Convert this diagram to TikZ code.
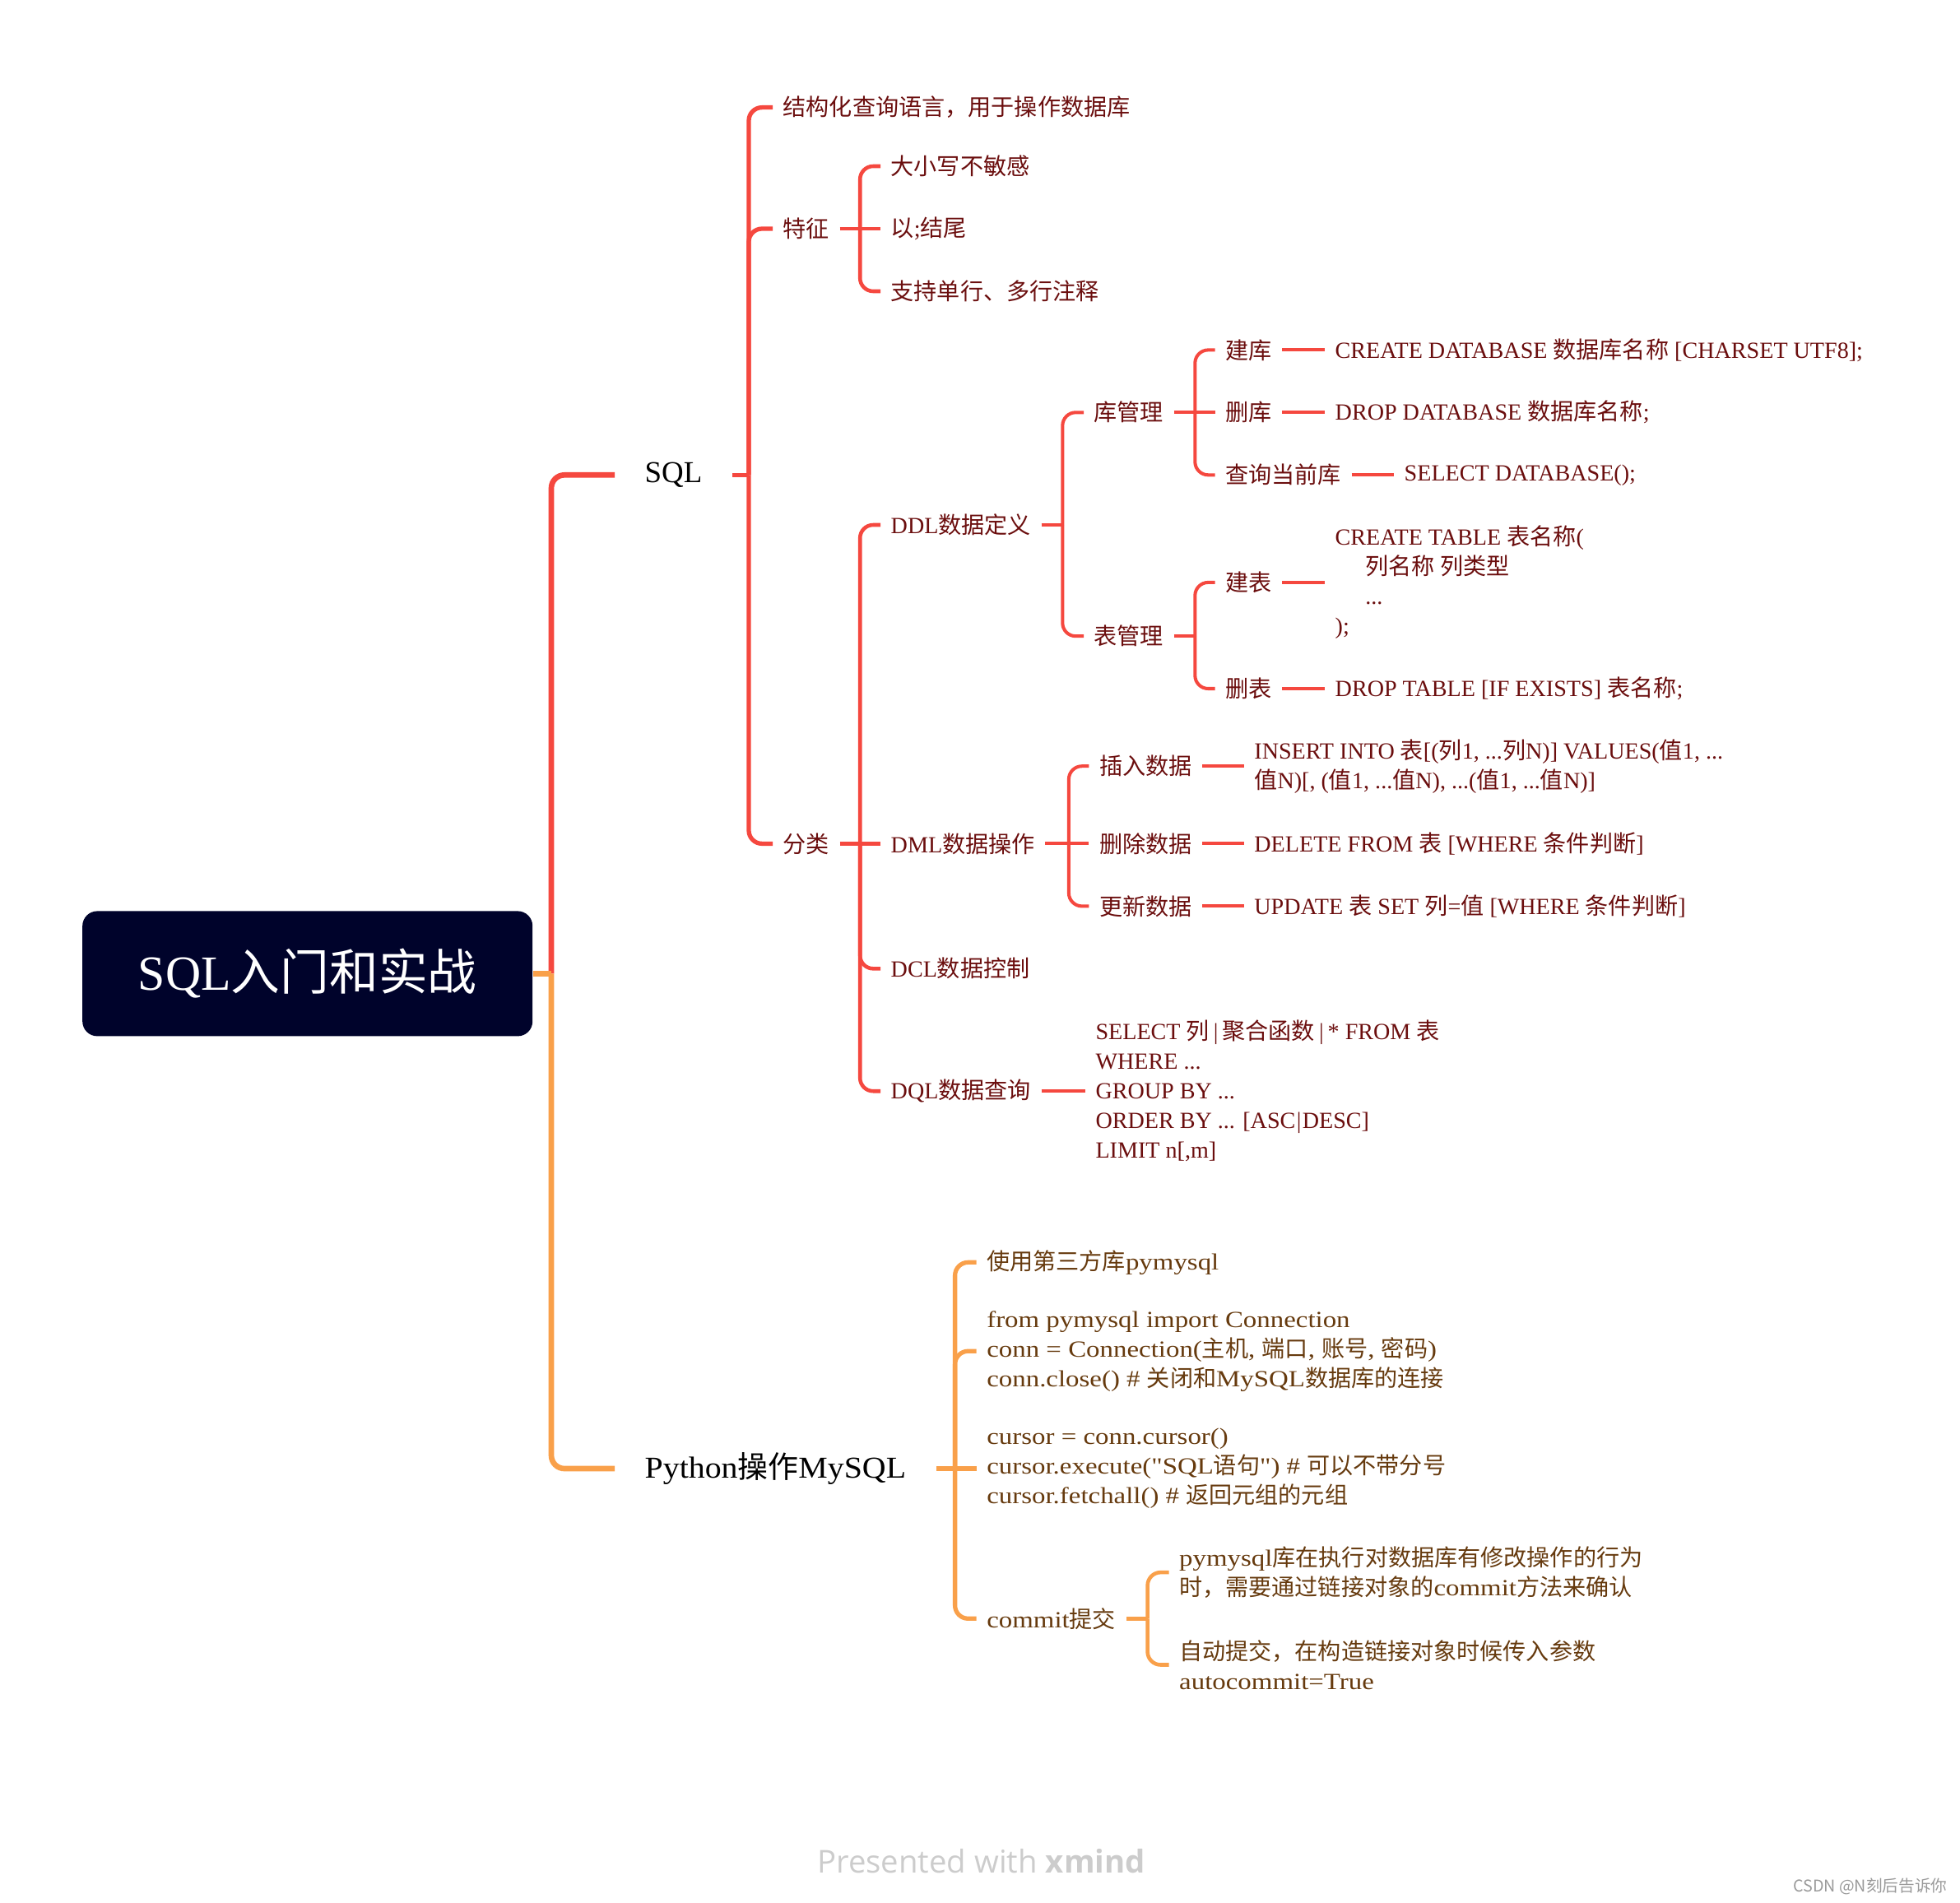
\documentclass[tikz,border=0pt]{standalone}
\usepackage{fontspec}
\setmainfont{Liberation Serif}
\newfontfamily\cjkfont{Noto Sans CJK SC}
\newfontfamily\footfont{Open Sans}
\newfontfamily\pyfont{Liberation Serif}[FakeStretch=1.17, Ligatures=TeXOff]
\newfontfamily\pymainfont{Liberation Serif}[FakeStretch=1.08]
\XeTeXinterchartokenstate=1
\newcount\cjkn
\def\cjkrange#1#2{\cjkn=#1 \loop\XeTeXcharclass\cjkn=7 \ifnum\cjkn<#2 \advance\cjkn by 1 \repeat}
\cjkrange{"3000}{"303F}
\cjkrange{"4E00}{"9FFF}
\cjkrange{"FF00}{"FFEF}
\def\latinfont{\rmfamily}
\XeTeXinterchartoks 0 7 = {\cjkfont}
\XeTeXinterchartoks 4095 7 = {\cjkfont}
\XeTeXinterchartoks 7 0 = {\latinfont}
\XeTeXinterchartoks 7 4095 = {\latinfont}
\newcommand\pipe{\kern0.18em|\kern0.18em}
\definecolor{sqlred}{HTML}{F5483F}
\definecolor{sqltxt}{HTML}{6B0E0E}
\definecolor{pyorange}{HTML}{F9A04A}
\definecolor{pytxt}{HTML}{663A0E}
\definecolor{rootfill}{HTML}{00032B}
\definecolor{footgray}{HTML}{CCCCCC}
\definecolor{wmgray}{HTML}{9A9A9A}

\begin{document}
\begin{tikzpicture}[
    roottopic/.style={fill=rootfill, text=white, rounded corners=0.18cm, minimum width=5.47cm, minimum height=1.52cm, font=\fontsize{17pt}{20pt}\selectfont},
    maintopic/.style={anchor=west, inner xsep=0.36cm, text=black, font=\fontsize{10.5pt}{13pt}\selectfont},
    topic/.style={anchor=west, inner xsep=0.12cm, inner ysep=0.05cm, align=left, font=\fontsize{8pt}{10.24pt}\selectfont},
    sqltopic/.style={topic, text=sqltxt},
    pytopic/.style={topic, text=pytxt, font=\def\latinfont{\pyfont}\pyfont\fontsize{8pt}{10.24pt}\selectfont},
    sqlA/.style={draw=sqlred, line width=1.9pt, rounded corners=0.16cm},
    sqlB/.style={sqlA, line width=1.5pt},
    sqlC/.style={sqlA, line width=1.3pt},
    sqlD/.style={sqlA, line width=1.15pt},
    pyA/.style={draw=pyorange, line width=1.9pt, rounded corners=0.16cm},
    pyB/.style={pyA, line width=1.5pt},
    pyC/.style={pyA, line width=1.3pt},
    footer/.style={text=footgray, font=\footfont\fontsize{10.9pt}{13pt}\selectfont},
    wmark/.style={text=wmgray, font=\cjkfont\fontsize{5.6pt}{7pt}\selectfont}
]
\useasboundingbox (0,0) rectangle (23.82,-23.12);

\node[roottopic] (root) at (3.737,-11.834) {SQL入门和实战};
\node[maintopic] (sql) at (7.47,-5.773) {SQL};
\node[maintopic, font=\def\latinfont{\pymainfont}\pymainfont\fontsize{10.5pt}{13pt}\selectfont] (python) at (7.47,-17.85) {Python操作MySQL};
\coordinate (rootJ) at (6.70,-11.834);
\draw[sqlA] (rootJ) |- (sql.west);
\draw[pyA] (rootJ) |- (python.west);
\draw[pyA] (root.east) -- (rootJ);

\node[sqltopic] (jgh) at (9.39,-1.306) {结构化查询语言，用于操作数据库};
\node[sqltopic] (tz) at (9.39,-2.780) {特征};
\node[sqltopic] (fl) at (9.39,-10.254) {分类};
\coordinate (sqlJ) at (9.10,-5.773);
\draw[sqlB] (sql.east) -- (sqlJ);
\foreach \c in {jgh,tz,fl} \draw[sqlB] (sqlJ) |- (\c.west);

\node[sqltopic] (dx) at (10.70,-2.020) {大小写不敏感};
\node[sqltopic] (yjw) at (10.70,-2.780) {以;结尾};
\node[sqltopic] (zc) at (10.70,-3.540) {支持单行、多行注释};
\coordinate (tzJ) at (10.452,-2.780);
\draw[sqlC] (tz.east) -- (yjw.west);
\foreach \c in {dx,zc} \draw[sqlC] (tzJ) |- (\c.west);

\node[sqltopic] (ddl) at (10.70,-6.380) {DDL数据定义};
\node[sqltopic] (dml) at (10.70,-10.254) {DML数据操作};
\node[sqltopic] (dcl) at (10.70,-11.773) {DCL数据控制};
\node[sqltopic] (dql) at (10.70,-13.262) {DQL数据查询};
\coordinate (flJ) at (10.452,-10.254);
\draw[sqlC] (fl.east) -- (dml.west);
\foreach \c in {ddl,dcl,dql} \draw[sqlC] (flJ) |- (\c.west);

\node[sqltopic] (kgl) at (13.17,-5.013) {库管理};
\node[sqltopic] (bgl) at (13.17,-7.732) {表管理};
\coordinate (ddlJ) at (12.913,-6.380);
\draw[sqlD] (ddl.east) -- (ddlJ);
\foreach \c in {kgl,bgl} \draw[sqlD] (ddlJ) |- (\c.west);

\node[sqltopic] (jk) at (14.767,-4.254) {建库};
\node[sqltopic] (sk) at (14.767,-5.013) {删库};
\node[sqltopic] (cxk) at (14.767,-5.773) {查询当前库};
\coordinate (kglJ) at (14.523,-5.013);
\draw[sqlD] (kgl.east) -- (sk.west);
\foreach \c in {jk,cxk} \draw[sqlD] (kglJ) |- (\c.west);
\node[sqltopic] (jkC) at (16.10,-4.254) {CREATE DATABASE 数据库名称 [CHARSET UTF8];};
\node[sqltopic] (skC) at (16.10,-5.013) {DROP DATABASE 数据库名称;};
\node[sqltopic] (cxkC) at (16.94,-5.773) {SELECT DATABASE();};
\draw[sqlD] (jk.east) -- (jkC.west);
\draw[sqlD] (sk.east) -- (skC.west);
\draw[sqlD] (cxk.east) -- (cxkC.west);

\node[sqltopic] (jb) at (14.767,-7.079) {建表};
\node[sqltopic] (sb) at (14.767,-8.370) {删表};
\coordinate (bglJ) at (14.523,-7.732);
\draw[sqlD] (bgl.east) -- (bglJ);
\foreach \c in {jb,sb} \draw[sqlD] (bglJ) |- (\c.west);
\node[sqltopic] (jbC) at (16.10,-7.079) {CREATE TABLE 表名称(\\\hspace*{1.3em}列名称 列类型\\\hspace*{1.3em}...\\);};
\node[sqltopic] (sbC) at (16.10,-8.370) {DROP TABLE [IF EXISTS] 表名称;};
\draw[sqlD] (jb.east) -- (jbC.west);
\draw[sqlD] (sb.east) -- (sbC.west);

\node[sqltopic] (cr) at (13.233,-9.312) {插入数据};
\node[sqltopic] (sc) at (13.233,-10.254) {删除数据};
\node[sqltopic] (gx) at (13.233,-11.014) {更新数据};
\coordinate (dmlJ) at (12.989,-10.254);
\draw[sqlD] (dml.east) -- (sc.west);
\foreach \c in {cr,gx} \draw[sqlD] (dmlJ) |- (\c.west);
\node[sqltopic] (crC) at (15.117,-9.312) {INSERT INTO 表[(列1, ...列N)] VALUES(值1, ...\\值N)[, (值1, ...值N), ...(值1, ...值N)]};
\node[sqltopic] (scC) at (15.117,-10.254) {DELETE FROM 表 [WHERE 条件判断]};
\node[sqltopic] (gxC) at (15.117,-11.014) {UPDATE 表 SET 列=值 [WHERE 条件判断]};
\draw[sqlD] (cr.east) -- (crC.west);
\draw[sqlD] (sc.east) -- (scC.west);
\draw[sqlD] (gx.east) -- (gxC.west);

\node[sqltopic] (dqlC) at (13.188,-13.262) {SELECT 列\pipe 聚合函数\pipe * FROM 表\\WHERE ...\\GROUP BY ...\\ORDER BY ... [ASC\kern0.05em|\kern0.05em DESC]\\LIMIT n[,m]};
\draw[sqlD] (dql.east) -- (dqlC.west);

\node[pytopic] (sy) at (11.866,-15.343) {使用第三方库pymysql};
\node[pytopic] (lj) at (11.866,-16.422) {from pymysql import Connection\\conn = Connection(主机, 端口, 账号, 密码)\\conn.close() \# 关闭和MySQL数据库的连接};
\node[pytopic] (yb) at (11.866,-17.850) {cursor = conn.cursor()\\cursor.execute("SQL语句") \# 可以不带分号\\cursor.fetchall() \# 返回元组的元组};
\node[pytopic] (cm) at (11.866,-19.673) {commit提交};
\coordinate (pyJ) at (11.606,-17.850);
\draw[pyB] (python.east) -- (yb.west);
\foreach \c in {sy,lj,cm} \draw[pyB] (pyJ) |- (\c.west);

\node[pytopic] (cmA) at (14.205,-19.111) {pymysql库在执行对数据库有修改操作的行为\\时，需要通过链接对象的commit方法来确认};
\node[pytopic] (cmB) at (14.205,-20.235) {自动提交，在构造链接对象时候传入参数\\autocommit=True};
\coordinate (cmJ) at (13.946,-19.673);
\draw[pyC] (cm.east) -- (cmJ);
\foreach \c in {cmA,cmB} \draw[pyC] (cmJ) |- (\c.west);

\node[footer] (foot) at (11.925,-22.62) {Presented with {\bfseries xmind}};
\node[wmark] (csdn) at (22.73,-22.924) {CSDN @N刻后告诉你};
\end{tikzpicture}
\end{document}
